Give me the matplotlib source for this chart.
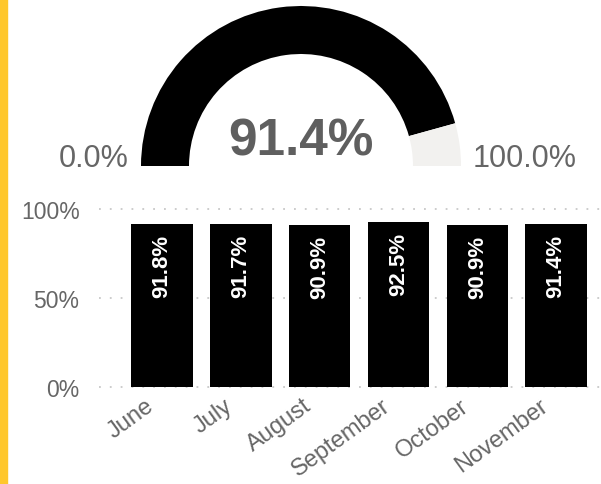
import matplotlib
matplotlib.use("Agg")
import matplotlib.pyplot as plt
from matplotlib.patches import Wedge
from matplotlib.transforms import ScaledTranslation

# data
months = ["June", "July", "August", "September", "October", "November"]
values = [91.8, 91.7, 90.9, 92.5, 90.9, 91.4]
gauge_value = 91.4
gauge_min = 0.0
gauge_max = 100.0
y_ticks = [0, 50, 100]
y_tick_labels = ["0%", "50%", "100%"]

plt.rcParams["font.family"] = ["Liberation Sans", "DejaVu Sans"]
grey = "#666666"

fig = plt.figure(figsize=(6.01, 4.85), dpi=100)
W, H = 601, 485

# yellow strip on the left
fig.patches.append(plt.Rectangle((0, 0), 7 / W, 1, transform=fig.transFigure,
                                 color="#FFC72C", zorder=0))

# GAUGE
cx, cy, r = 301, 485 - 167, 160
axg = fig.add_axes([(cx - 1.1 * r) / W, (cy - 0.1 * r) / H, 2.2 * r / W, 1.2 * r / H])
axg.set_xlim(-1.1, 1.1)
axg.set_ylim(-0.1, 1.1)
axg.axis("off")
frac = (gauge_value - gauge_min) / (gauge_max - gauge_min)
split = 180 * (1 - frac)
axg.add_patch(Wedge((0, 0), 1, split, 180, width=0.3, color="black", lw=0))
axg.add_patch(Wedge((0, 0), 1, 0, split, width=0.3, color="#F2F1EF", lw=0))
axg.text(0, 0.075, f"{gauge_value:.1f}%", ha="center", va="baseline",
         fontsize=37, fontweight="bold", color="#5F5F5F")
axg.text(-1.08, 0, f"{gauge_min:.1f}%", ha="right", va="baseline", fontsize=22, color=grey)
axg.text(1.07, 0, f"{gauge_max:.1f}%", ha="left", va="baseline", fontsize=22, color=grey)

# BAR CHART
ppu = 177.7 / 100
y0 = 485 - 387.7
ax = fig.add_axes([99 / W, (y0 - 2 * ppu) / H, 502 / W, 104 * ppu / H])
x = list(range(len(months)))
ax.bar(x, values, width=0.78, color="black", zorder=3)
ax.set_xlim(-0.8, 5.57)
ax.set_ylim(-2, 102)
for v in y_ticks:
    ax.axhline(v, color="#C8C8C8", lw=1.3, linestyle=(0, (1, 5)), zorder=1)
for s in ax.spines.values():
    s.set_visible(False)
ax.set_yticks(y_ticks)
ax.set_yticklabels(y_tick_labels)
ax.set_xticks(x)
ax.set_xticklabels(months, rotation=36, ha="right", rotation_mode="anchor")
ax.tick_params(axis="y", length=0, pad=14, labelsize=16.5, labelcolor=grey)
ax.tick_params(axis="x", length=0, pad=3, labelsize=17, labelcolor=grey)
shift = ScaledTranslation(-17 / 100, 0, fig.dpi_scale_trans)
for lbl in ax.get_xticklabels():
    lbl.set_transform(lbl.get_transform() + shift)

for xi, v in zip(x, values):
    ax.text(xi, v - 5.6, f"{v:.1f}%", rotation=90, ha="center", va="top",
            color="white", fontsize=16, fontweight="bold", zorder=4)

fig.savefig("out.png", dpi=100)
